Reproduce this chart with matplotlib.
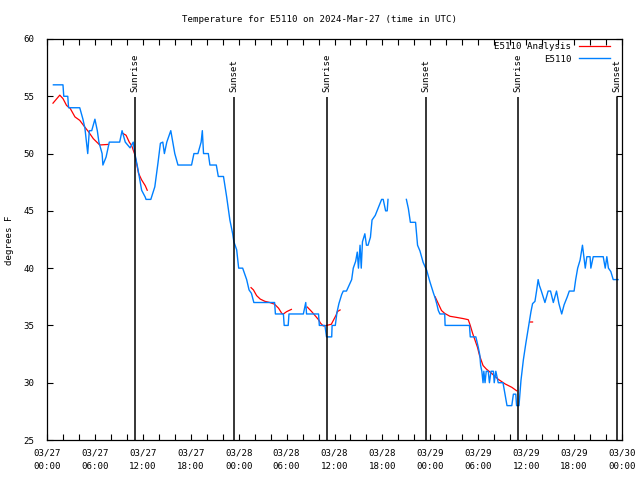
import numpy as np
import matplotlib
matplotlib.use('Agg')
import matplotlib.pyplot as plt

nan = np.nan

# observed temperature (hours since 03/27 00:00 UTC, degrees F)
obs_h = [0.8, 2.0, 2.1, 2.6, 2.7, 4.1, 4.5, 4.75, 5.1, 5.3, 5.6, 6.0, 6.3, 6.5, 6.9, 7.0, 7.4, 7.8,
         9.1, 9.4, 9.8, 10.4, 10.8, 11.0, 11.4, 11.85, 12.3, 12.4, 13.0, 13.5, 13.9, 14.2, 14.5,
         14.7, 15.0, 15.5, 16.0, 16.4, 18.1, 18.4, 18.9, 19.3, 19.45, 19.6, 20.2, 20.4, 21.2,
         21.45, 22.1, 22.5, 22.9, 23.25, 23.4, 23.75, 24.0, 24.5, 25.0, 25.3, 25.6, 25.9, 28.5,
         28.6, 29.6, 29.7, 30.2, 30.3, 32.1, 32.4, 32.5, 34.0, 34.1, 34.8, 35.0, 35.65, 35.7,
         36.1, 36.3, 36.55, 36.9, 37.1, 37.5, 38.15, 38.35, 38.65, 38.85, 39.0, 39.2, 39.35,
         39.5, 39.8, 40.0, 40.2, 40.5, 40.7, 41.1, 41.5, 41.9, 42.1, 42.4, 42.6, 42.7, 43.5,
         45.0, 45.25, 45.5, 46.15, 46.4, 46.7, 47.1, 47.55, 47.95, 48.4, 48.6, 48.8, 49.0, 49.2,
         49.8, 49.85, 52.9, 53.0, 53.7, 54.0, 54.2, 54.3, 54.45, 54.6, 54.7, 54.85, 55.0, 55.25,
         55.4, 55.6, 55.9, 56.0, 56.2, 56.5, 57.1, 57.3, 57.6, 58.2, 58.4, 58.7, 58.8, 59.1,
         59.35, 59.65, 59.95, 60.3, 60.6, 60.8, 61.1, 61.3, 61.5, 61.65, 61.9, 62.35, 62.75,
         63.05, 63.4, 63.8, 64.1, 64.45, 64.75, 65.15, 65.4, 66.0, 66.2, 66.45, 66.75, 67.05,
         67.25, 67.4, 67.6, 68.0, 68.1, 68.4, 69.65, 69.9, 70.1, 70.3, 70.6, 70.9, 71.5]
obs_t = [56, 56, 55, 55, 54, 54, 53, 52.2, 50, 52, 52, 53, 52, 51, 50, 49, 49.7, 51,
         51, 52, 51, 50.5, 51, 50, 48.6, 46.8, 46.2, 46, 46, 47.1, 49.2, 50.9, 51,
         50, 51, 52, 50, 49, 49, 50, 50, 51, 52, 50, 50, 49, 49,
         48, 48, 46.2, 44.2, 43.0, 42.3, 41.6, 40, 40, 39, 38.1, 37.8, 37, 37,
         36, 36, 35, 35, 36, 36, 37, 36, 36, 35, 35, 34, 34, 35,
         35, 36.1, 36.9, 37.7, 38, 38, 39, 40, 40.6, 41.4, 40, 42, 40,
         42.3, 43, 42, 42, 42.7, 44.2, 44.6, 45.3, 46, 46, 45, 45, 46, nan,
         46, 45.2, 44, 44, 42, 41.5, 40.5, 39.8, 38.8, 37.8, 37.4, 36.9, 36.3, 36,
         36, 35, 35, 34, 34, 33.1, 32.4, 31.5, 31, 30, 31, 30, 31, 31,
         30, 31, 31, 30, 31, 30, 30, 29.2, 28, 28, 29, 29, 28, 28,
         30.2, 32, 33.4, 34.9, 36.2, 36.9, 37.1, 38, 39, 38.5, 38, 37, 38,
         38, 37, 38, 36.9, 36, 36.8, 37.5, 38, 38, 39, 40, 40.7, 42,
         40.9, 40, 41, 41, 40, 41, 41, 40, 41, 40, 39.7, 39, 39]

# analysis temperature
ana_h = [0.75, 1.6, 2.0, 2.45, 2.9, 3.5, 4.1, 4.75, 5.2, 5.8, 6.6, 7.7, 8.5,
         9.4, 9.9, 10.3, 10.6, 11.0, 11.2, 11.45, 11.85, 12.3, 12.55, 20.0,
         25.55, 25.85, 26.25, 26.7, 27.3, 27.9, 28.5, 29.0, 29.4, 29.6, 30.0, 30.6, 31.5,
         32.6, 33.15, 33.7, 34.0, 34.25, 34.6, 35.0, 35.6, 35.9, 36.2, 36.35, 36.7, 42.0,
         48.6, 49.0, 49.4, 49.8, 50.45, 51.3, 52.1, 52.75, 53.0, 53.3, 53.6, 53.9, 54.15,
         54.35, 54.6, 55.0, 55.7, 56.5, 57.35, 58.2, 58.8, 59.5,
         60.45, 60.8]
ana_t = [54.4, 55.1, 54.8, 54.2, 53.95, 53.2, 52.9, 52.3, 51.9, 51.3, 50.75, 50.8, nan,
         51.8, 51.6, 51.0, 50.7, 49.9, 49.2, 48.3, 47.7, 47.2, 46.8, nan,
         38.3, 38.1, 37.6, 37.3, 37.1, 37.0, 36.85, 36.5, 36.05, 36.0, 36.2, 36.4, nan,
         36.6, 36.2, 35.75, 35.5, 35.2, 34.95, 35.0, 35.1, 35.5, 35.9, 36.2, 36.35, nan,
         37.5, 36.9, 36.3, 36.05, 35.8, 35.7, 35.6, 35.5, 35.0, 34.3, 33.7, 33.1, 32.4,
         32.0, 31.5, 31.2, 30.8, 30.3, 29.9, 29.6, 29.3, nan,
         35.3, 35.3]

sun_h = [11.03, 23.38, 35.0, 47.4, 58.97, 71.42]
sun_lab = ['Sunrise', 'Sunset', 'Sunrise', 'Sunset', 'Sunrise', 'Sunset']

xt = list(range(0, 73, 6))
xt_lab = ['03/27\n00:00', '03/27\n06:00', '03/27\n12:00', '03/27\n18:00',
          '03/28\n00:00', '03/28\n06:00', '03/28\n12:00', '03/28\n18:00',
          '03/29\n00:00', '03/29\n06:00', '03/29\n12:00', '03/29\n18:00',
          '03/30\n00:00']

plt.rcParams['font.family'] = ['DejaVu Sans Mono']
fs = 6.6

fig = plt.figure(figsize=(6.4, 4.8), dpi=100)
ax = fig.add_axes([47/640, 40/480, 575/640, 401/480])

ax.plot(ana_h, ana_t, color='#ff0000', lw=0.9, label='E5110 Analysis')
ax.plot(obs_h, obs_t, color='#0080ff', lw=1.0, label='E5110')

ax.vlines(sun_h, 25, 54.95, color='black', lw=1.1)
for h, s in zip(sun_h, sun_lab):
    ax.text(h, 55.35, s, rotation=90, ha='center', va='bottom', fontsize=fs)

ax.set_xlim(0, 72)
ax.set_ylim(25, 60)
ax.set_xticks(xt)
ax.set_xticklabels(xt_lab, fontsize=fs, linespacing=1.6)
ax.set_xticks(range(0, 73, 2), minor=True)
ax.set_yticks(range(25, 61, 5))
ax.tick_params(axis='y', labelsize=fs)
ax.tick_params(which='both', direction='in', top=True, right=True, length=4, width=0.8)
ax.tick_params(axis='x', pad=6)
ax.tick_params(axis='y', pad=9)
for sp in ax.spines.values():
    sp.set_linewidth(0.9)

fig.text(0.5, 1 - 19/480, 'Temperature for E5110 on 2024-Mar-27 (time in UTC)',
         ha='center', va='center', fontsize=fs)
fig.text(10/640, 0.5, 'degrees F', rotation=90, ha='center', va='center', fontsize=fs)

ax.legend(loc='upper right', bbox_to_anchor=(0.993, 1.012), frameon=False, fontsize=fs,
          markerfirst=False, handlelength=3.3, handletextpad=0.9, labelspacing=0.35)

fig.savefig('out.png', dpi=100)
